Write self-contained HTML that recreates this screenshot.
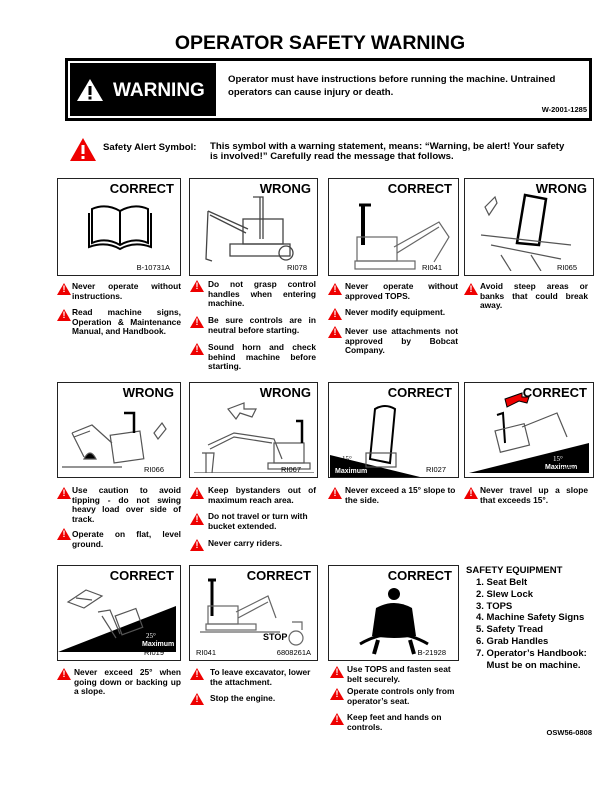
<!DOCTYPE html>
<html><head><meta charset="utf-8"><style>
body{margin:0;width:612px;height:792px;background:#fff;position:relative;font-family:"Liberation Sans",sans-serif;overflow:hidden}
.a{position:absolute}
.box{position:absolute;border:1.5px solid #222;box-sizing:border-box;background:#fff}
.lab{position:absolute;right:6px;top:2px;font-weight:bold;font-size:13px}
.id{position:absolute;font-size:7.5px;bottom:3px}
.t{position:absolute;font-size:8.4px;font-weight:bold;line-height:9.6px;text-align:justify;text-align-last:left}
.tri{position:absolute;width:0;height:0;border-left:7px solid transparent;border-right:7px solid transparent;border-bottom:12px solid #e00}
.tri:after{content:"!";position:absolute;left:-1.5px;top:1px;color:#fff;font-size:9px;font-weight:bold}
.se{position:absolute;font-weight:bold;font-size:9.5px;line-height:11.8px}
</style></head><body>
<div class="a" style="left:14px;width:612px;top:32px;text-align:center;font-weight:bold;font-size:19.5px">OPERATOR SAFETY WARNING</div>
<div class="a" style="left:65px;top:58px;width:527px;height:63px;border:3px solid #000;box-sizing:border-box"></div>
<div class="a" style="left:70px;top:63px;width:146px;height:53px;background:#000"></div>
<svg class="a" style="left:76px;top:78px" width="28" height="24"><polygon points="14,1 27,23 1,23" fill="#fff"/><rect x="12.5" y="8" width="3" height="9" fill="#000"/><rect x="12.5" y="18.5" width="3" height="3" fill="#000"/></svg>
<div class="a" style="left:113px;top:80px;color:#fff;font-weight:bold;font-size:19px">WARNING</div>
<div class="a" style="left:228px;top:73px;font-weight:bold;font-size:9.6px;line-height:13px">Operator must have instructions before running the machine. Untrained<br>operators can cause injury or death.</div>
<div class="a" style="right:25px;top:105px;font-weight:bold;font-size:7.5px">W-2001-1285</div>
<svg class="a" style="left:70px;top:138px" width="26" height="23"><polygon points="13,0 26,23 0,23" fill="#e00"/><rect x="11.5" y="7" width="3" height="9" fill="#fff"/><rect x="11.5" y="18" width="3" height="3" fill="#fff"/></svg>
<div class="a" style="left:103px;top:142px;font-weight:bold;font-size:9.6px">Safety Alert Symbol:</div>
<div class="a" style="left:210px;top:142px;font-weight:bold;font-size:9.6px;line-height:9.5px">This symbol with a warning statement, means: “Warning, be alert! Your safety<br>is involved!” Carefully read the message that follows.</div>

<!-- Row 1 -->
<div class="box" style="left:57px;top:178px;width:124px;height:98px"><div class="lab">CORRECT</div>
<svg class="a" style="left:30px;top:22px" width="65" height="50"><g fill="none" stroke="#000" stroke-width="2"><path d="M4 8 Q18 2 32 10 Q46 2 60 8 V42 Q46 36 32 44 Q18 36 4 42Z"/><path d="M32 10V44"/><path d="M1 12V46 Q18 40 32 48 Q46 40 63 46V12"/></g></svg>
<div class="id" style="right:10px">B-10731A</div></div>
<div class="box" style="left:189px;top:178px;width:129px;height:98px"><div class="lab">WRONG</div>
<svg class="a" style="left:8px;top:10px" width="110" height="80"><g fill="none" stroke="#444" stroke-width="1.3"><path d="M55 8 H65 V50 M62 8 V50"/><rect x="45" y="30" width="40" height="25"/><path d="M10 22 L50 40 M12 26 L48 44 M10 22 L8 70 L14 72"/><rect x="32" y="55" width="60" height="12"/><circle cx="88" cy="64" r="7"/></g></svg>
<div class="id" style="right:10px">RI078</div></div>
<div class="box" style="left:328px;top:178px;width:131px;height:98px"><div class="lab">CORRECT</div>
<svg class="a" style="left:10px;top:18px" width="115" height="78"><g fill="none" stroke="#666" stroke-width="1.2"><path d="M20 8 H32" stroke="#000" stroke-width="3"/><path d="M24 8 V48" stroke="#000" stroke-width="4"/><rect x="18" y="40" width="40" height="24"/><path d="M55 50 L100 25 L110 40 L95 65 M58 56 L100 30"/><rect x="16" y="64" width="60" height="8"/></g></svg>
<div class="id" style="right:16px">RI041</div></div>
<div class="box" style="left:464px;top:178px;width:130px;height:98px"><div class="lab">WRONG</div>
<svg class="a" style="left:6px;top:6px" width="118" height="86"><g fill="none" stroke="#555" stroke-width="1.2"><path d="M14 22 L24 12 L26 18 L18 30Z"/><path d="M54 10 L75 14 L68 60 L46 58Z" stroke="#000" stroke-width="2.5"/><path d="M10 50 L100 60 M20 60 L90 74 M30 70 L40 86 M60 70 L70 86"/></g></svg>
<div class="id" style="right:16px">RI065</div></div>

<div class="tri" style="left:57px;top:283px"></div><div class="t" style="left:72px;top:282px;width:109px">Never operate without instructions.</div>
<div class="tri" style="left:57px;top:309px"></div><div class="t" style="left:72px;top:308px;width:109px">Read machine signs, Operation &amp; Maintenance Manual, and Handbook.</div>
<div class="tri" style="left:190px;top:280px"></div><div class="t" style="left:208px;top:280px;width:108px">Do not grasp control handles when entering machine.</div>
<div class="tri" style="left:190px;top:316px"></div><div class="t" style="left:208px;top:316px;width:108px">Be sure controls are in neutral before starting.</div>
<div class="tri" style="left:190px;top:343px"></div><div class="t" style="left:208px;top:343px;width:108px">Sound horn and check behind machine before starting.</div>
<div class="tri" style="left:328px;top:283px"></div><div class="t" style="left:345px;top:282px;width:113px">Never operate without approved TOPS.</div>
<div class="tri" style="left:328px;top:308px"></div><div class="t" style="left:345px;top:308px;width:113px">Never modify equipment.</div>
<div class="tri" style="left:328px;top:326px"></div><div class="t" style="left:345px;top:327px;width:113px">Never use attachments not approved by Bobcat Company.</div>
<div class="tri" style="left:464px;top:283px"></div><div class="t" style="left:480px;top:282px;width:108px">Avoid steep areas or banks that could break away.</div>

<!-- Row 2 -->
<div class="box" style="left:57px;top:382px;width:124px;height:96px"><div class="lab">WRONG</div>
<svg class="a" style="left:4px;top:20px" width="116" height="68"><g fill="none" stroke="#555" stroke-width="1.2"><path d="M10 30 L30 22 L50 40 M12 34 L28 28 M10 30 L22 54"/><path d="M22 56 Q28 44 34 56Z" fill="#000"/><rect x="50" y="30" width="30" height="28" transform="rotate(-8 65 44)"/><path d="M62 10 H72 V30" stroke="#000" stroke-width="2.5"/><path d="M0 64 H60"/><path d="M92 30 L100 20 L104 26 L96 36Z"/></g></svg>
<div class="id" style="right:16px">RI066</div></div>
<div class="box" style="left:189px;top:382px;width:129px;height:96px"><div class="lab">WRONG</div>
<svg class="a" style="left:4px;top:10px" width="122" height="80"><g fill="none" stroke="#555" stroke-width="1.2"><path d="M34 16 L50 10 L50 16 L62 16 L58 24 L46 20 L42 26Z"/><path d="M14 52 L40 40 L80 46 L88 66 M16 56 L40 44 L78 50"/><rect x="80" y="50" width="30" height="20"/><path d="M102 28 H108 V50" stroke="#000" stroke-width="2.5"/><rect x="74" y="70" width="42" height="6"/><path d="M8 60 L20 60 L18 80 M12 60 V80"/><path d="M0 80 H120"/></g></svg>
<div class="id" style="right:16px">RI067</div></div>
<div class="box" style="left:328px;top:382px;width:131px;height:96px"><div class="lab">CORRECT</div>
<svg class="a" style="left:1px;top:20px" width="128" height="74"><path d="M0 52 L90 74 L0 74Z" fill="#000"/><g fill="none" stroke="#555" stroke-width="1.2"><path d="M45 6 Q55 0 65 6 L60 60 L40 56Z" stroke="#000" stroke-width="2"/><rect x="36" y="50" width="30" height="14"/></g><text x="12" y="58" fill="#000" font-size="7" font-family="Liberation Serif">15°</text><text x="5" y="70" fill="#fff" font-size="7" font-weight="bold" font-family="Liberation Sans">Maximum</text></svg>
<div class="id" style="right:12px">RI027</div></div>
<div class="box" style="left:464px;top:382px;width:130px;height:96px"><div class="lab">CORRECT</div>
<svg class="a" style="left:2px;top:4px" width="126" height="88"><path d="M2 86 L122 56 V86Z" fill="#000"/><path d="M38 12 L55 6 L55 10 L62 10 L60 16 L52 14 L40 20Z" fill="#e00" stroke="#000"/><g fill="none" stroke="#555" stroke-width="1.2"><path d="M30 28 L36 26 L38 56" stroke="#000" stroke-width="2"/><rect x="30" y="40" width="30" height="22" transform="rotate(-14 45 50)"/><path d="M55 40 L90 26 L100 50"/></g><text x="86" y="74" fill="#fff" font-size="7" font-family="Liberation Serif">15°</text><text x="78" y="82" fill="#fff" font-size="7" font-weight="bold" font-family="Liberation Sans">Maximum</text></svg>
<div class="id" style="right:12px">RI043</div></div>

<div class="tri" style="left:57px;top:487px"></div><div class="t" style="left:72px;top:486px;width:109px">Use caution to avoid tipping - do not swing heavy load over side of track.</div>
<div class="tri" style="left:57px;top:528px"></div><div class="t" style="left:72px;top:530px;width:109px">Operate on flat, level ground.</div>
<div class="tri" style="left:190px;top:487px"></div><div class="t" style="left:208px;top:486px;width:108px">Keep bystanders out of maximum reach area.</div>
<div class="tri" style="left:190px;top:513px"></div><div class="t" style="left:208px;top:512px;width:108px;text-align:left">Do not travel or turn with bucket extended.</div>
<div class="tri" style="left:190px;top:539px"></div><div class="t" style="left:208px;top:539px;width:108px">Never carry riders.</div>
<div class="tri" style="left:328px;top:487px"></div><div class="t" style="left:345px;top:486px;width:113px;text-align:left">Never exceed a 15° slope to the side.</div>
<div class="tri" style="left:464px;top:487px"></div><div class="t" style="left:480px;top:486px;width:108px">Never travel up a slope that exceeds 15°.</div>

<!-- Row 3 -->
<div class="box" style="left:57px;top:565px;width:124px;height:96px"><div class="lab">CORRECT</div>
<svg class="a" style="left:0;top:16px" width="122" height="70"><path d="M0 70 L118 24 V70Z" fill="#000"/><g fill="none" stroke="#555" stroke-width="1.2"><path d="M10 20 L28 8 L44 14 L26 26Z M18 16 L34 18"/><path d="M40 30 L52 28 L62 52 M44 34 L58 56"/><rect x="60" y="30" width="22" height="20" transform="rotate(-20 70 40)"/></g><text x="88" y="56" fill="#fff" font-size="7" font-family="Liberation Serif">25°</text><text x="84" y="64" fill="#fff" font-size="7" font-weight="bold" font-family="Liberation Sans">Maximum</text></svg>
<div class="id" style="right:16px">RI019</div></div>
<div class="box" style="left:189px;top:565px;width:129px;height:96px"><div class="lab">CORRECT</div>
<svg class="a" style="left:10px;top:10px" width="115" height="76"><g fill="none" stroke="#666" stroke-width="1.2"><path d="M8 4 H16" stroke="#000" stroke-width="3"/><path d="M12 4 V40" stroke="#000" stroke-width="3"/><rect x="8" y="30" width="30" height="18"/><path d="M36 36 L68 20 L76 42 M38 42 L68 26"/><rect x="6" y="48" width="50" height="6"/><path d="M0 56 H80"/><circle cx="96" cy="62" r="7"/><path d="M92 46 H102 V54"/></g></svg>
<div class="a" style="left:73px;top:66px;font-weight:bold;font-size:9px">STOP</div>
<div class="id" style="left:6px">RI041</div><div class="id" style="right:6px">6808261A</div></div>
<div class="box" style="left:328px;top:565px;width:131px;height:96px"><div class="lab">CORRECT</div>
<svg class="a" style="left:25px;top:22px" width="80" height="68"><circle cx="40" cy="6" r="6" fill="#000"/><path d="M22 20 Q40 10 58 20 L62 48 Q40 52 18 48Z" fill="#000"/><path d="M6 56 Q40 36 74 56" fill="none" stroke="#000" stroke-width="3"/><path d="M24 52 L20 66 M56 52 L60 66" stroke="#000" stroke-width="4"/></svg>
<div class="id" style="right:12px">B-21928</div></div>
<div class="se" style="left:466px;top:565px">SAFETY EQUIPMENT</div>
<div class="se" style="left:476px;top:577px">1. Seat Belt<br>2. Slew Lock<br>3. TOPS<br>4. Machine Safety Signs<br>5. Safety Tread<br>6. Grab Handles<br>7. Operator’s Handbook:<br>&nbsp;&nbsp;&nbsp;&nbsp;Must be on machine.</div>

<div class="tri" style="left:57px;top:668px"></div><div class="t" style="left:74px;top:668px;width:107px">Never exceed 25° when going down or backing up a slope.</div>
<div class="tri" style="left:190px;top:668px"></div><div class="t" style="left:210px;top:668px;width:108px;text-align:left">To leave excavator, lower the attachment.</div>
<div class="tri" style="left:190px;top:693px"></div><div class="t" style="left:210px;top:694px;width:108px">Stop the engine.</div>
<div class="tri" style="left:330px;top:666px"></div><div class="t" style="left:347px;top:665px;width:113px;text-align:left">Use TOPS and fasten seat belt securely.</div>
<div class="tri" style="left:330px;top:688px"></div><div class="t" style="left:347px;top:687px;width:113px;text-align:left">Operate controls only from operator’s seat.</div>
<div class="tri" style="left:330px;top:713px"></div><div class="t" style="left:347px;top:713px;width:113px;text-align:left">Keep feet and hands on controls.</div>
<div class="a" style="right:20px;top:728px;font-weight:bold;font-size:7.5px">OSW56-0808</div>
</body></html>
